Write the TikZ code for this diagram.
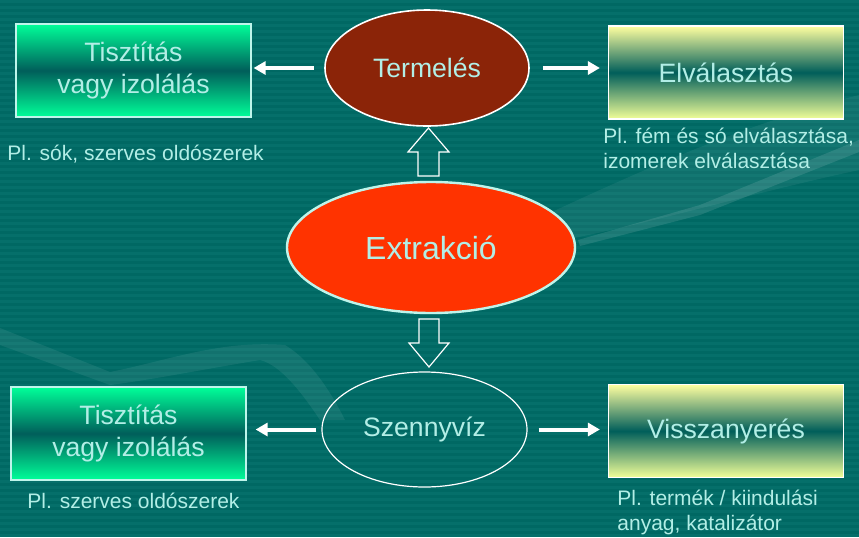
\documentclass[tikz,border=0pt]{standalone}
\usepackage{fontspec}
\setmainfont{Liberation Sans}
\usetikzlibrary{arrows.meta, calc, positioning, shapes.geometric}
\definecolor{slide}{RGB}{0,104,99}
\definecolor{stripe}{RGB}{5,111,106}
\definecolor{caption}{RGB}{178,238,230}
\definecolor{mint}{RGB}{0,255,153}
\definecolor{lemon}{RGB}{255,255,160}
\definecolor{deepteal}{RGB}{0,94,90}
\definecolor{rust}{RGB}{139,36,8}
\definecolor{flame}{RGB}{255,51,0}
\definecolor{rim}{RGB}{190,245,235}

\tikzset{
    greenbox/.style={rectangle, draw=rim, line width=0.6pt, top color=mint, bottom color=mint,
        middle color=deepteal, minimum width=117.5pt, minimum height=46.5pt, align=center,
        text=caption, font=\fontsize{13.3}{16}\selectfont},
    yellowbox/.style={greenbox, draw=white, top color=lemon, bottom color=lemon!95!green, middle color=deepteal},
    blob/.style={ellipse, inner sep=0pt, text=caption, font=\fontsize{13.3}{16}\selectfont},
    note/.style={text=caption, align=left, inner sep=0pt, font=\fontsize{10.5}{12.5}\selectfont},
    flow/.style={draw=white, line width=2pt, -{Triangle[length=6pt, width=6.5pt]}},
    hollow/.style={draw=white, line width=0.6pt, line join=miter}
}

\begin{document}
\begin{tikzpicture}[x=0.5pt, y=-0.5pt]

    % Slide background
    \useasboundingbox (0,0) rectangle (859,537);
    \fill[slide] (0,0) rectangle (859,537);
    \foreach \y in {0,6,...,534} {
        \fill[stripe] (0,\y) rectangle (859,\y+3);
    }

    % Faint swooshes
    \fill[white, opacity=0.06] (470,250) .. controls (600,190) and (720,130) .. (859,95)
        -- (859,170) .. controls (720,200) and (600,240) .. (470,255) -- cycle;
    \fill[white, opacity=0.11] (578,240) -- (700,205) -- (859,140) -- (859,152) -- (700,215) -- (580,246) -- cycle;
    \fill[white, opacity=0.07] (0,328) -- (110,372) .. controls (170,360) and (220,340) .. (285,345)
        .. controls (310,360) and (330,390) .. (345,420) -- (320,420)
        .. controls (300,390) and (280,365) .. (260,360) .. controls (200,370) and (150,380) .. (110,385)
        -- (0,345) -- cycle;

    % Ellipses
    \node[blob, fill=rust, draw=white, line width=0.8pt, minimum width=102pt, minimum height=58pt] (termeles) at (427,68) {Termelés};
    \node[blob, fill=flame, draw=rim, line width=1.2pt, minimum width=144pt, minimum height=65.5pt,
        font=\fontsize{16}{19}\selectfont] (extrakcio) at (431,247.5) {Extrakció};
    \node[blob, draw=white, line width=0.6pt, minimum width=102.5pt, minimum height=57.5pt] (szennyviz) at (424.5,429.5) {Szennyvíz};

    % Boxes
    \node[greenbox] (tl) at (133.5,70.5) {Tisztítás\\vagy izolálás};
    \node[yellowbox] (tr) at (726,72.5) {Elválasztás};
    \node[greenbox] (bl) at (128.5,433.5) {Tisztítás\\vagy izolálás};
    \node[yellowbox] (br) at (726,431) {Visszanyerés};

    % Examples
    \node[note, anchor=base west] (ntl) at (7,160) {Pl. sók, szerves oldószerek};
    \node[note, anchor=north west] (ntr) at (603,128) {Pl. fém és só elválasztása,\\izomerek elválasztása};
    \node[note, anchor=base] (nbl) at (133.5,508) {Pl. szerves oldószerek};
    \node[note, anchor=north west] (nbr) at (617,490) {Pl. termék / kiindulási\\anyag, katalizátor};

    % Arrows
    \draw[flow, shorten <=5pt, shorten >=1pt] (termeles.west) -- (termeles.west -| tl.east);
    \draw[flow, shorten <=6.5pt, shorten >=4pt] (termeles.east) -- (termeles.east -| tr.west);
    \draw[flow, shorten <=2.5pt, shorten >=4.5pt] (szennyviz.west) -- (szennyviz.west -| bl.east);
    \draw[flow, shorten <=5.5pt, shorten >=4pt] (szennyviz.east) -- (szennyviz.east -| br.west);

    % Block arrows
    \coordinate (upfoot) at (428.5,176);
    \coordinate (downtop) at (429,319);
    \draw[hollow] (upfoot) ++(-10.5,0) -- ++(0,-24) -- ++(-10,0) -- ++(20.5,-24)
        -- ++(20.5,24) -- ++(-10,0) -- ++(0,24) -- cycle;
    \draw[hollow] (downtop) ++(-10,0) -- ++(0,24) -- ++(-10,0) -- ++(20,24)
        -- ++(20,-24) -- ++(-10,0) -- ++(0,-24) -- cycle;

\end{tikzpicture}
\end{document}
